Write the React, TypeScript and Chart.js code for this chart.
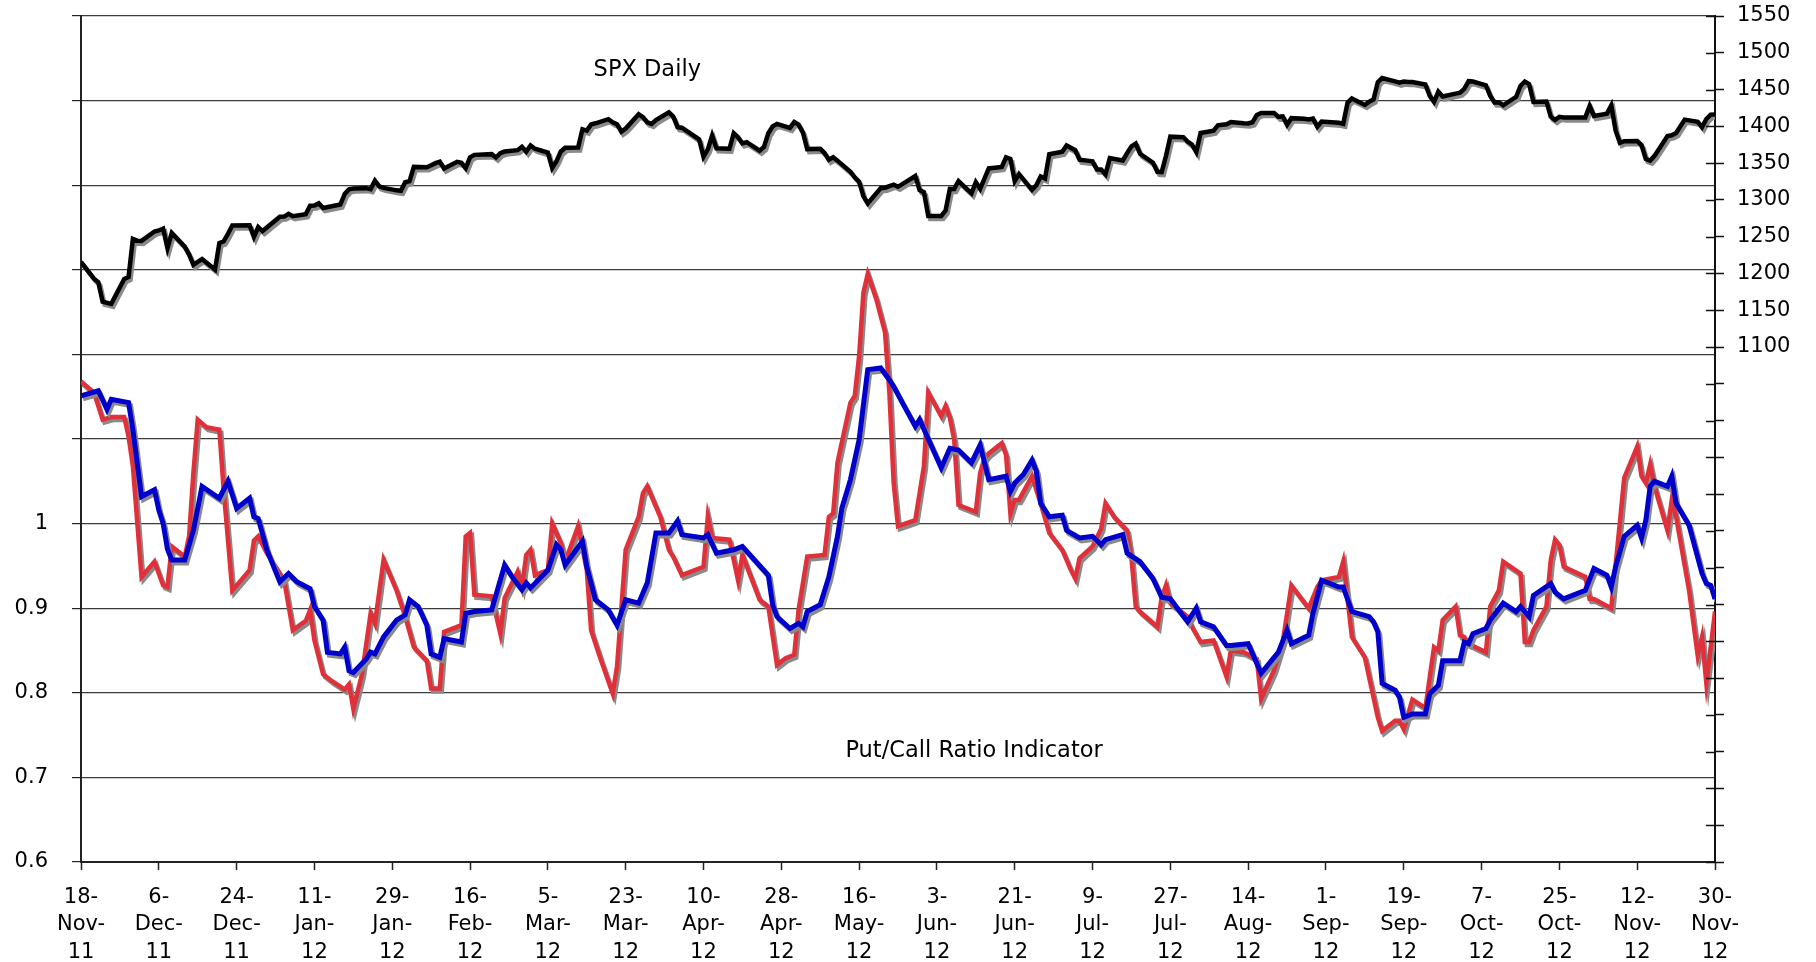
import React, { useEffect, useRef } from "react";
import { Chart, registerables } from "chart.js";

Chart.register(...registerables);

// ---- x axis: calendar days since 18-Nov-11, ticks every 18 days ----
const xTickLabels = [
  "18-Nov-11", "6-Dec-11", "24-Dec-11", "11-Jan-12", "29-Jan-12", "16-Feb-12",
  "5-Mar-12", "23-Mar-12", "10-Apr-12", "28-Apr-12", "16-May-12", "3-Jun-12",
  "21-Jun-12", "9-Jul-12", "27-Jul-12", "14-Aug-12", "1-Sep-12", "19-Sep-12",
  "7-Oct-12", "25-Oct-12", "12-Nov-12", "30-Nov-12",
];
const xStepDays = 18;
const ratioTickLabels = ["0.6", "0.7", "0.8", "0.9", "1"];
const spxLabelFloor = 1100;

// ---- SPX daily closes ----
const spxDates = [
  "2011-11-18", "2011-11-21", "2011-11-22", "2011-11-23", "2011-11-25", "2011-11-28", "2011-11-29", "2011-11-30",
  "2011-12-01", "2011-12-02", "2011-12-05", "2011-12-06", "2011-12-07", "2011-12-08", "2011-12-09", "2011-12-12", "2011-12-13", "2011-12-14", "2011-12-15", "2011-12-16", "2011-12-19", "2011-12-20", "2011-12-21", "2011-12-22", "2011-12-23", "2011-12-27", "2011-12-28", "2011-12-29", "2011-12-30",
  "2012-01-03", "2012-01-04", "2012-01-05", "2012-01-06", "2012-01-09", "2012-01-10", "2012-01-11", "2012-01-12", "2012-01-13", "2012-01-17", "2012-01-18", "2012-01-19", "2012-01-20", "2012-01-23", "2012-01-24", "2012-01-25", "2012-01-26", "2012-01-27", "2012-01-30", "2012-01-31",
  "2012-02-01", "2012-02-02", "2012-02-03", "2012-02-06", "2012-02-07", "2012-02-08", "2012-02-09", "2012-02-10", "2012-02-13", "2012-02-14", "2012-02-15", "2012-02-16", "2012-02-17", "2012-02-21", "2012-02-22", "2012-02-23", "2012-02-24", "2012-02-27", "2012-02-28", "2012-02-29",
  "2012-03-01", "2012-03-02", "2012-03-05", "2012-03-06", "2012-03-07", "2012-03-08", "2012-03-09", "2012-03-12", "2012-03-13", "2012-03-14", "2012-03-15", "2012-03-16", "2012-03-19", "2012-03-20", "2012-03-21", "2012-03-22", "2012-03-23", "2012-03-26", "2012-03-27", "2012-03-28", "2012-03-29", "2012-03-30",
  "2012-04-02", "2012-04-03", "2012-04-04", "2012-04-05", "2012-04-09", "2012-04-10", "2012-04-11", "2012-04-12", "2012-04-13", "2012-04-16", "2012-04-17", "2012-04-18", "2012-04-19", "2012-04-20", "2012-04-23", "2012-04-24", "2012-04-25", "2012-04-26", "2012-04-27", "2012-04-30",
  "2012-05-01", "2012-05-02", "2012-05-03", "2012-05-04", "2012-05-07", "2012-05-08", "2012-05-09", "2012-05-10", "2012-05-11", "2012-05-14", "2012-05-15", "2012-05-16", "2012-05-17", "2012-05-18", "2012-05-21", "2012-05-22", "2012-05-23", "2012-05-24", "2012-05-25", "2012-05-29", "2012-05-30", "2012-05-31",
  "2012-06-01", "2012-06-04", "2012-06-05", "2012-06-06", "2012-06-07", "2012-06-08", "2012-06-11", "2012-06-12", "2012-06-13", "2012-06-14", "2012-06-15", "2012-06-18", "2012-06-19", "2012-06-20", "2012-06-21", "2012-06-22", "2012-06-25", "2012-06-26", "2012-06-27", "2012-06-28", "2012-06-29",
  "2012-07-02", "2012-07-03", "2012-07-05", "2012-07-06", "2012-07-09", "2012-07-10", "2012-07-11", "2012-07-12", "2012-07-13", "2012-07-16", "2012-07-17", "2012-07-18", "2012-07-19", "2012-07-20", "2012-07-23", "2012-07-24", "2012-07-25", "2012-07-26", "2012-07-27", "2012-07-30", "2012-07-31",
  "2012-08-01", "2012-08-02", "2012-08-03", "2012-08-06", "2012-08-07", "2012-08-08", "2012-08-09", "2012-08-10", "2012-08-13", "2012-08-14", "2012-08-15", "2012-08-16", "2012-08-17", "2012-08-20", "2012-08-21", "2012-08-22", "2012-08-23", "2012-08-24", "2012-08-27", "2012-08-28", "2012-08-29", "2012-08-30", "2012-08-31",
  "2012-09-04", "2012-09-05", "2012-09-06", "2012-09-07", "2012-09-10", "2012-09-11", "2012-09-12", "2012-09-13", "2012-09-14", "2012-09-17", "2012-09-18", "2012-09-19", "2012-09-20", "2012-09-21", "2012-09-24", "2012-09-25", "2012-09-26", "2012-09-27", "2012-09-28",
  "2012-10-01", "2012-10-02", "2012-10-03", "2012-10-04", "2012-10-05", "2012-10-08", "2012-10-09", "2012-10-10", "2012-10-11", "2012-10-12", "2012-10-15", "2012-10-16", "2012-10-17", "2012-10-18", "2012-10-19", "2012-10-22", "2012-10-23", "2012-10-24", "2012-10-25", "2012-10-26", "2012-10-31",
  "2012-11-01", "2012-11-02", "2012-11-05", "2012-11-06", "2012-11-07", "2012-11-08", "2012-11-09", "2012-11-12", "2012-11-13", "2012-11-14", "2012-11-15", "2012-11-16", "2012-11-19", "2012-11-20", "2012-11-21", "2012-11-23", "2012-11-26", "2012-11-27", "2012-11-28", "2012-11-29", "2012-11-30",
];
const spxClose = [
  1215.65, 1192.98, 1188.04, 1161.79, 1158.67, 1192.55, 1195.19, 1246.96,
  1244.58, 1244.28, 1257.08, 1258.47, 1261.01, 1234.35, 1255.19, 1236.47, 1225.73, 1211.82, 1215.75, 1219.66, 1205.35, 1241.3, 1243.72, 1254.0, 1265.33, 1265.43, 1249.64, 1263.02, 1257.6,
  1277.06, 1277.3, 1281.06, 1277.81, 1280.7, 1292.08, 1292.48, 1295.5, 1289.09, 1293.67, 1308.04, 1314.5, 1315.38, 1316.0, 1314.65, 1326.06, 1318.43, 1316.33, 1313.01, 1312.41,
  1324.09, 1325.54, 1344.9, 1344.33, 1347.05, 1349.96, 1351.95, 1342.64, 1351.77, 1350.5, 1343.23, 1358.04, 1361.23, 1362.21, 1357.66, 1363.46, 1365.74, 1367.59, 1372.18, 1365.68,
  1374.09, 1369.63, 1364.33, 1343.36, 1352.63, 1365.91, 1370.87, 1371.09, 1395.95, 1394.28, 1402.6, 1404.17, 1409.75, 1405.52, 1402.89, 1392.78, 1397.11, 1416.51, 1412.52, 1405.54, 1403.28, 1408.47,
  1419.04, 1413.38, 1398.96, 1398.08, 1382.2, 1358.59, 1368.71, 1387.57, 1370.26, 1369.57, 1390.78, 1385.14, 1376.92, 1378.53, 1366.94, 1371.97, 1390.69, 1399.98, 1403.36, 1397.91,
  1405.82, 1402.31, 1391.57, 1369.1, 1369.58, 1363.72, 1354.58, 1357.99, 1353.39, 1338.35, 1330.66, 1324.8, 1304.86, 1295.22, 1315.99, 1316.63, 1318.86, 1320.68, 1317.82, 1332.42, 1313.32, 1310.33,
  1278.04, 1278.18, 1285.5, 1315.13, 1314.99, 1325.66, 1308.93, 1324.18, 1314.88, 1329.1, 1342.84, 1344.78, 1357.98, 1355.69, 1325.51, 1335.02, 1313.72, 1319.99, 1331.85, 1329.04, 1362.16,
  1365.51, 1374.02, 1367.58, 1354.68, 1352.46, 1341.47, 1341.45, 1334.76, 1356.78, 1353.64, 1363.67, 1372.78, 1376.51, 1362.66, 1350.52, 1338.31, 1337.89, 1360.02, 1385.97, 1385.3, 1379.32,
  1375.32, 1365.0, 1390.99, 1394.23, 1401.35, 1402.22, 1402.8, 1405.87, 1404.11, 1403.93, 1405.53, 1415.51, 1418.16, 1418.13, 1413.17, 1413.49, 1402.08, 1411.13, 1410.44, 1409.3, 1410.49, 1399.48, 1406.58,
  1404.94, 1403.44, 1432.12, 1437.92, 1429.08, 1433.56, 1436.56, 1459.99, 1465.77, 1461.19, 1459.32, 1461.05, 1460.26, 1460.15, 1456.89, 1441.59, 1433.32, 1447.15, 1440.67,
  1444.49, 1445.75, 1450.99, 1461.4, 1460.93, 1455.88, 1441.48, 1432.56, 1432.84, 1428.59, 1440.13, 1454.92, 1460.91, 1457.34, 1433.19, 1433.82, 1413.11, 1408.75, 1412.97, 1411.94, 1412.16,
  1427.59, 1414.2, 1417.26, 1428.39, 1394.53, 1377.51, 1379.85, 1380.03, 1374.53, 1355.49, 1353.33, 1359.88, 1386.89, 1387.81, 1391.03, 1409.15, 1406.29, 1398.94, 1409.93, 1415.95, 1416.18,
];

// ---- Put/Call ratio, fast line (red): day offset and value ----
const redDays = [
  0, 3, 5, 7, 10, 11, 12, 14, 17, 19, 20, 21, 24, 25, 26, 27, 29, 32, 33, 35, 39, 40, 41, 43, 47, 49, 52, 53, 54, 56,
  58, 61, 62, 63, 65, 67, 68, 70, 73, 75, 77, 80, 81, 83, 84, 88, 89, 90, 91, 95, 97, 98, 101, 102, 103, 104, 105, 108, 109, 111,
  112, 115, 117, 118, 120, 123, 124, 126, 129, 130, 131, 134, 136, 137, 139, 144, 145, 146, 150, 152, 153, 157, 159, 161, 163, 165, 166, 168, 172, 173,
  174, 175, 178, 179, 180, 181, 182, 184, 186, 187, 188, 189, 193, 195, 196, 199, 200, 201, 202, 203, 207, 208, 209, 210, 213, 214, 215, 216, 217, 220,
  222, 224, 227, 229, 230, 231, 234, 236, 237, 239, 242, 243, 244, 245, 249, 250, 251, 252, 256, 257, 259, 262, 265, 266, 269, 272, 273, 276, 278, 280,
  284, 286, 287, 291, 292, 294, 297, 298, 300, 301, 304, 305, 306, 308, 311, 313, 314, 315, 318, 319, 320, 321, 325, 326, 328, 329, 333, 334, 335, 336,
  339, 340, 341, 342, 343, 348, 349, 350, 354, 356, 357, 360, 361, 362, 363, 364, 367, 368, 369, 372, 374, 375, 376, 378,
];
const redValues = [
  1.168, 1.155, 1.123, 1.126, 1.126, 1.103, 1.068, 0.937, 0.955, 0.927, 0.925, 0.973, 0.961, 0.985, 1.06, 1.123, 1.114, 1.111, 1.04, 0.921, 0.945, 0.98, 0.985, 0.965, 0.933, 0.874, 0.885, 0.898, 0.862, 0.822,
  0.814, 0.804, 0.81, 0.781, 0.822, 0.894, 0.882, 0.957, 0.921, 0.89, 0.854, 0.838, 0.805, 0.805, 0.872, 0.88, 0.985, 0.989, 0.916, 0.914, 0.87, 0.912, 0.943, 0.925, 0.963, 0.969, 0.939, 0.945, 1.0, 0.977,
  0.955, 0.997, 0.945, 0.874, 0.843, 0.799, 0.831, 0.969, 1.008, 1.036, 1.044, 1.008, 0.969, 0.961, 0.939, 0.949, 1.008, 0.983, 0.981, 0.933, 0.963, 0.91, 0.902, 0.833, 0.841, 0.845, 0.898, 0.961, 0.963, 1.008,
  1.012, 1.072, 1.143, 1.151, 1.198, 1.273, 1.295, 1.265, 1.226, 1.155, 1.048, 0.997, 1.004, 1.068, 1.155, 1.127, 1.139, 1.125, 1.099, 1.022, 1.014, 1.06, 1.077, 1.083, 1.095, 1.081, 1.012, 1.028, 1.028, 1.056,
  1.024, 0.989, 0.969, 0.945, 0.935, 0.959, 0.973, 0.994, 1.024, 1.008, 0.992, 0.96, 0.902, 0.896, 0.878, 0.913, 0.927, 0.906, 0.89, 0.878, 0.86, 0.862, 0.819, 0.85, 0.848, 0.84, 0.793, 0.827, 0.86, 0.927,
  0.9, 0.925, 0.933, 0.937, 0.955, 0.866, 0.842, 0.818, 0.771, 0.755, 0.767, 0.767, 0.757, 0.792, 0.782, 0.854, 0.85, 0.886, 0.902, 0.868, 0.866, 0.858, 0.848, 0.902, 0.921, 0.955, 0.941, 0.86, 0.86, 0.874,
  0.902, 0.957, 0.981, 0.975, 0.949, 0.937, 0.911, 0.911, 0.9, 1.002, 1.054, 1.091, 1.056, 1.048, 1.07, 1.044, 0.992, 1.028, 1.008, 0.921, 0.844, 0.866, 0.811, 0.896,
];

// ---- Put/Call ratio, slow line (blue): day offset and value ----
const blueDays = [
  0, 4, 6, 7, 11, 12, 14, 17, 18, 19, 20, 21, 24, 26, 28, 32, 34, 36, 39, 40, 41, 43, 46, 48, 50, 53, 54, 56, 57, 60,
  61, 62, 63, 66, 67, 68, 70, 73, 75, 76, 78, 80, 81, 83, 84, 88, 89, 91, 95, 98, 100, 102, 103, 104, 108, 110, 111, 112, 116, 117,
  119, 122, 124, 126, 129, 131, 133, 136, 138, 139, 144, 145, 147, 151, 153, 159, 160, 161, 164, 166, 167, 168, 171, 173, 175, 176, 178, 180, 182, 185,
  187, 188, 190, 193, 194, 196, 199, 201, 203, 206, 208, 210, 214, 215, 216, 218, 220, 221, 222, 224, 227, 228, 231, 234, 236, 237, 241, 242, 245, 248,
  250, 252, 256, 258, 259, 262, 265, 266, 270, 273, 277, 279, 280, 284, 285, 287, 291, 292, 294, 298, 299, 300, 301, 304, 305, 306, 308, 311, 312, 314,
  315, 319, 320, 321, 322, 325, 326, 329, 332, 333, 335, 336, 340, 341, 343, 348, 350, 353, 354, 355, 357, 360, 361, 362, 363, 364, 367, 368, 369, 372,
  375, 376, 377, 378,
];
const blueValues = [
  1.151, 1.157, 1.135, 1.147, 1.143, 1.111, 1.032, 1.04, 1.016, 1.0, 0.97, 0.957, 0.957, 0.992, 1.044, 1.03, 1.05, 1.018, 1.03, 1.008, 1.006, 0.969, 0.931, 0.941, 0.931, 0.923, 0.902, 0.886, 0.848, 0.846,
  0.854, 0.826, 0.824, 0.84, 0.848, 0.846, 0.866, 0.886, 0.892, 0.91, 0.902, 0.88, 0.846, 0.842, 0.864, 0.86, 0.894, 0.896, 0.898, 0.951, 0.935, 0.922, 0.93, 0.924, 0.945, 0.975, 0.969, 0.951, 0.979, 0.949,
  0.91, 0.898, 0.88, 0.91, 0.906, 0.93, 0.989, 0.989, 1.003, 0.987, 0.983, 0.987, 0.965, 0.969, 0.973, 0.939, 0.904, 0.89, 0.876, 0.882, 0.878, 0.896, 0.904, 0.937, 0.985, 1.018, 1.052, 1.099, 1.182, 1.184,
  1.17, 1.162, 1.143, 1.115, 1.123, 1.1, 1.066, 1.089, 1.087, 1.072, 1.093, 1.052, 1.056, 1.038, 1.048, 1.058, 1.075, 1.062, 1.024, 1.008, 1.01, 0.992, 0.983, 0.985, 0.975, 0.981, 0.987, 0.965, 0.955, 0.935,
  0.913, 0.911, 0.884, 0.9, 0.884, 0.878, 0.856, 0.856, 0.858, 0.823, 0.848, 0.874, 0.858, 0.868, 0.894, 0.933, 0.925, 0.925, 0.896, 0.89, 0.884, 0.872, 0.811, 0.803, 0.795, 0.771, 0.775, 0.775, 0.799, 0.809,
  0.838, 0.838, 0.86, 0.858, 0.87, 0.876, 0.886, 0.906, 0.896, 0.902, 0.89, 0.915, 0.929, 0.919, 0.911, 0.921, 0.947, 0.939, 0.925, 0.949, 0.985, 0.998, 0.983, 1.004, 1.044, 1.05, 1.044, 1.056, 1.024, 0.998,
  0.941, 0.929, 0.927, 0.911,
];

const START_MS = Date.UTC(2011, 10, 18);
const dayOf = (iso: string) => Math.round((Date.parse(iso + "T00:00:00Z") - START_MS) / 86400000);

const FONT = "'DejaVu Sans', Verdana, sans-serif";

const shadowPlugin = {
  id: "lineShadow",
  beforeDatasetDraw(chart: any) {
    const ctx = chart.ctx;
    ctx.save();
    ctx.shadowColor = "#8a8a8a";
    ctx.shadowOffsetX = 2;
    ctx.shadowOffsetY = 3;
    ctx.shadowBlur = 0;
  },
  afterDatasetDraw(chart: any) {
    chart.ctx.restore();
  },
};

const decorPlugin = {
  id: "decor",
  afterDraw(chart: any) {
    const ctx = chart.ctx;
    const { x, y, y2 } = chart.scales;
    const area = chart.chartArea;
    ctx.save();
    // inner half of the crossing tick marks on the right axis
    ctx.strokeStyle = "#111";
    ctx.lineWidth = 1.5;
    y2.ticks.forEach((t: any) => {
      const py = Math.round(y2.getPixelForValue(t.value)) + 0.5;
      ctx.beginPath();
      ctx.moveTo(area.right - 9, py);
      ctx.lineTo(area.right, py);
      ctx.stroke();
    });
    // series annotations
    ctx.fillStyle = "#000";
    ctx.font = `22.5px ${FONT}`;
    ctx.textAlign = "center";
    ctx.textBaseline = "middle";
    ctx.fillText("SPX Daily", x.getPixelForValue(131), y2.getPixelForValue(1476));
    ctx.fillText("Put/Call Ratio Indicator", x.getPixelForValue(206.6), y.getPixelForValue(0.731));
    ctx.restore();
  },
};

export default function App() {
  const ref = useRef<HTMLCanvasElement>(null);

  useEffect(() => {
    const canvas = ref.current;
    if (!canvas) return;
    const spxPoints = spxDates.map((d, i) => ({ x: dayOf(d), y: spxClose[i] }));
    const redPoints = redDays.map((d, i) => ({ x: d, y: redValues[i] }));
    const bluePoints = blueDays.map((d, i) => ({ x: d, y: blueValues[i] }));
    const lastDay = (xTickLabels.length - 1) * xStepDays;

    const chart = new Chart(canvas, {
      type: "line",
      data: {
        datasets: [
          {
            label: "Put/Call slow",
            data: bluePoints,
            yAxisID: "y",
            borderColor: "#0000cc",
            borderWidth: 5,
            pointRadius: 0,
            tension: 0,
            order: 1,
          },
          {
            label: "Put/Call fast",
            data: redPoints,
            yAxisID: "y",
            borderColor: "#e0313a",
            borderWidth: 4.5,
            pointRadius: 0,
            tension: 0,
            order: 2,
          },
          {
            label: "SPX Daily",
            data: spxPoints,
            yAxisID: "y2",
            borderColor: "#000000",
            borderWidth: 4.5,
            pointRadius: 0,
            tension: 0,
            order: 3,
          },
        ],
      },
      options: {
        responsive: false,
        devicePixelRatio: 1,
        animation: false,
        events: [],
        layout: { padding: { top: 16, left: 0, right: 0, bottom: 0 } },
        plugins: { legend: { display: false }, tooltip: { enabled: false } },
        scales: {
          x: {
            type: "linear",
            min: 0,
            max: lastDay,
            afterFit: (s: any) => {
              s.height = 100;
              s.paddingLeft = 0;
              s.paddingRight = 0;
            },
            afterBuildTicks: (s: any) => {
              s.ticks = xTickLabels.map((_, i) => ({ value: i * xStepDays }));
            },
            ticks: {
              autoSkip: false,
              maxRotation: 0,
              minRotation: 0,
              padding: 14,
              color: "#000",
              font: { family: FONT, size: 21, lineHeight: 1.3 },
              callback: (v: any) => {
                const lab = xTickLabels[Math.round(Number(v) / xStepDays)];
                if (!lab) return "";
                const p = lab.split("-");
                return [p[0] + "-", p[1] + "-", p[2]];
              },
            },
            grid: {
              drawOnChartArea: false,
              drawTicks: true,
              tickLength: 8,
              tickColor: "#222",
              tickWidth: 1.5,
            },
            border: { display: true, color: "#222", width: 2 },
          },
          y: {
            type: "linear",
            position: "left",
            min: 0.6,
            max: 1.6,
            afterFit: (s: any) => {
              s.width = 81;
              s.paddingTop = 0;
              s.paddingBottom = 0;
            },
            ticks: {
              stepSize: 0.1,
              padding: 24,
              color: "#000",
              font: { family: FONT, size: 21 },
              callback: (_v: any, i: number) => ratioTickLabels[i] ?? "",
            },
            grid: {
              drawOnChartArea: true,
              color: "#3c3c3c",
              lineWidth: 1.2,
              drawTicks: true,
              tickLength: 9,
              tickColor: "#222",
            },
            border: { display: true, color: "#222", width: 2 },
          },
          y2: {
            type: "linear",
            position: "right",
            min: 400,
            max: 1550,
            afterFit: (s: any) => {
              s.width = 101;
              s.paddingTop = 0;
              s.paddingBottom = 0;
            },
            ticks: {
              stepSize: 50,
              padding: 13,
              color: "#000",
              font: { family: FONT, size: 21 },
              callback: (v: any) => (Number(v) >= spxLabelFloor ? String(v) : ""),
            },
            grid: {
              drawOnChartArea: false,
              drawTicks: true,
              tickLength: 9,
              tickColor: "#111",
              tickWidth: 1.5,
            },
            border: { display: true, color: "#111", width: 2 },
          },
        },
      },
      plugins: [shadowPlugin, decorPlugin],
    } as any);

    return () => chart.destroy();
  }, []);

  return (
    <div style={{ position: "fixed", left: 0, top: 0, width: 1816, height: 962, background: "#ffffff" }}>
      <canvas ref={ref} width={1816} height={962} style={{ display: "block" }} />
    </div>
  );
}
